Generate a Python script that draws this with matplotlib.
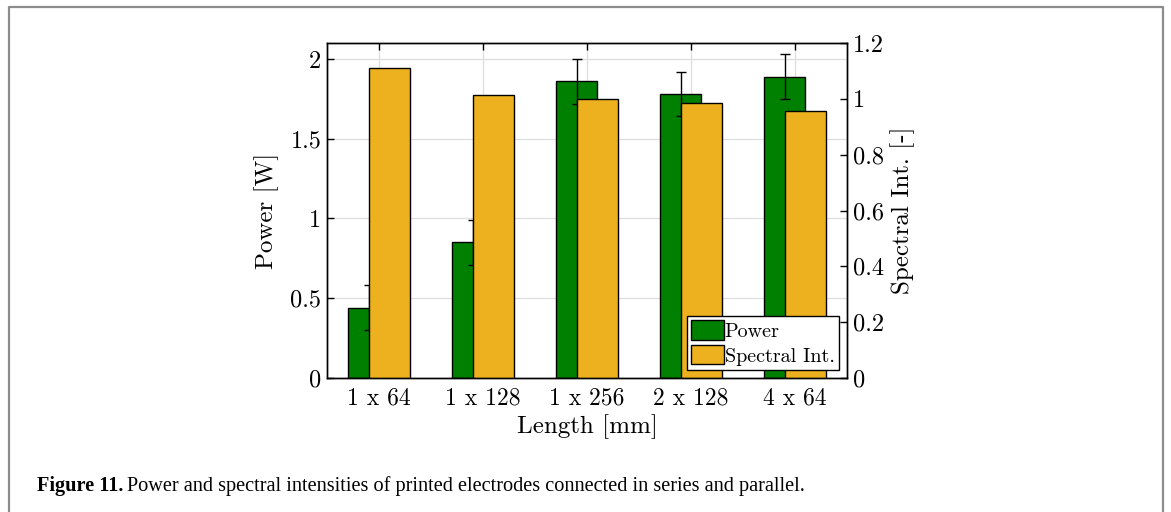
import numpy as np
import matplotlib
matplotlib.use('Agg')
from matplotlib import pyplot as plt
from matplotlib.lines import Line2D

# Measured values per electrode configuration
configs = ['1 x 64', '1 x 128', '1 x 256', '2 x 128', '4 x 64']
power = [0.44, 0.85, 1.86, 1.78, 1.89]          # W
power_err = [0.14, 0.14, 0.14, 0.14, 0.14]      # W
spectral = [1.11, 1.015, 1.0, 0.985, 0.955]     # normalised

green = (0, 0.5, 0)
yellow = (0.929, 0.694, 0.125)

plt.rcParams['font.family'] = 'cmr10'
plt.rcParams['mathtext.fontset'] = 'cm'
plt.rcParams['axes.formatter.use_mathtext'] = True

fig = plt.figure(figsize=(11.71, 5.12), dpi=100)
ax = fig.add_axes([327/1171, 1-378/512, 520/1171, 335/512])
ax2 = ax.twinx()

x = np.arange(1, len(configs)+1)
w = 0.4
ax.bar(x-0.1, power, w, color=green, edgecolor='k', linewidth=1.0, zorder=2, label='Power')
ax.errorbar(x-0.1, power, yerr=power_err, fmt='none', ecolor='k', elinewidth=1.0,
            capsize=3.5, capthick=1.0, zorder=3)
ax2.bar(x+0.1, spectral, w, color=yellow, edgecolor='k', linewidth=1.0, zorder=2, label='Spectral Int.')

ax.set_xlim(0.5, 5.5)
ax.set_ylim(0, 2.1)
ax2.set_ylim(0, 1.2)
ax.set_xticks(x)
ax.set_xticklabels(configs)
ax.set_yticks([0, 0.5, 1, 1.5, 2])
ax.set_yticklabels(['0', '0.5', '1', '1.5', '2'])
ax2.set_yticks([0, 0.2, 0.4, 0.6, 0.8, 1.0, 1.2])
ax2.set_yticklabels(['0', '0.2', '0.4', '0.6', '0.8', '1', '1.2'])

ax.grid(True, color='0.87', linewidth=0.9, zorder=0)
ax.set_axisbelow(True)
ax.tick_params(axis='y', direction='in', length=5, width=1, labelsize=17.5, pad=4)
ax.tick_params(axis='x', direction='in', length=5, width=1, labelsize=17, top=True, pad=7)
ax2.tick_params(axis='y', direction='in', length=5, width=1, labelsize=17.5, pad=4)
for a in (ax, ax2):
    for s in a.spines.values():
        s.set_linewidth(1.0)

ax.set_xlabel('Length [mm]', fontsize=18, labelpad=3)
ax.set_ylabel('Power [W]', fontsize=18, labelpad=8)
ax2.set_ylabel('Spectral Int. [-]', fontsize=18, labelpad=5)

h1, l1 = ax.get_legend_handles_labels()
h2, l2 = ax2.get_legend_handles_labels()
leg = ax2.legend(h1+h2, l1+l2, loc='lower right', fontsize=14.5, frameon=True, fancybox=False,
                 edgecolor='k', framealpha=1, borderpad=0.22, handlelength=1.6, handleheight=1.1,
                 handletextpad=0.05, labelspacing=0.2, borderaxespad=0.4)
leg.get_frame().set_linewidth(1.0)

# page frame around the figure
fig.add_artist(Line2D([9/1171, 9/1171, 1163/1171, 1163/1171], [0, 1-7/512, 1-7/512, 0],
                      transform=fig.transFigure, color='0.55', linewidth=1.6))

cap_y = 1-491/512
t1 = fig.text(37/1171, cap_y, 'Figure 11.', fontsize=14.6, fontweight='bold',
              family='Liberation Serif', va='baseline')
fig.canvas.draw()
bb = t1.get_window_extent()
fig.text((bb.x1+4)/1171, cap_y,
         'Power and spectral intensities of printed electrodes connected in series and parallel.',
         fontsize=14.6, family='Liberation Serif', va='baseline')

fig.savefig('out.png', dpi=100)
